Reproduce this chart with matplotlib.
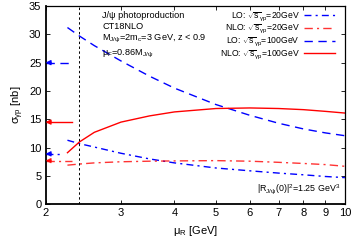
import matplotlib
matplotlib.use("Agg")
import matplotlib.pyplot as plt
from matplotlib.ticker import FixedLocator, FixedFormatter, NullLocator

plt.rcParams['font.family'] = ['Liberation Sans', 'DejaVu Sans']
plt.rcParams['mathtext.fontset'] = 'custom'
plt.rcParams['mathtext.rm'] = 'Liberation Sans'
plt.rcParams['mathtext.it'] = 'Liberation Sans'
plt.rcParams['mathtext.default'] = 'regular'

# renormalisation scale [GeV]
mu_r = [2.25, 2.4, 2.6, 3.0, 3.5, 4.0, 5.0, 6.0, 7.0, 8.0, 9.0, 10.0]
lo_20 = [11.3, 10.7, 10.1, 9.0, 8.0, 7.3, 6.4, 5.9, 5.5, 5.2, 4.9, 4.7]
nlo_20 = [6.9, 7.1, 7.3, 7.5, 7.6, 7.65, 7.7, 7.6, 7.4, 7.2, 7.0, 6.7]
lo_100 = [31.2, 29.7, 28.0, 25.3, 22.6, 20.5, 17.6, 15.7, 14.3, 13.3, 12.6, 12.1]
nlo_100 = [9.1, 11.0, 12.7, 14.5, 15.6, 16.3, 16.9, 17.0, 16.9, 16.7, 16.4, 16.1]

# arrows on left axis (value, start x)
arrow_vals = [8.9, 7.7, 25.0, 14.5]
arrow_x0 = [2.2, 2.3, 2.3, 2.3]

mu_line = 2.4
x_ticks = [2, 3, 4, 5, 6, 7, 8, 9, 10]
y_ticks = [0, 5, 10, 15, 20, 25, 30, 35]

blue = '#0000ff'
red = '#ff0000'
styles = [
    dict(color=blue, dashes=[5, 3, 1.5, 3], lw=1.0),
    dict(color=red, dashes=[6, 3, 1.5, 3], lw=1.0, alpha=0.8),
    dict(color=blue, dashes=[6, 4], lw=1.0),
    dict(color=red, lw=1.0),
]
labels = [r'LO: $\sqrt{s}_{\gamma p}$=20GeV', r'NLO: $\sqrt{s}_{\gamma p}$=20GeV',
          r'LO: $\sqrt{s}_{\gamma p}$=100GeV', r'NLO: $\sqrt{s}_{\gamma p}$=100GeV']
series = [lo_20, nlo_20, lo_100, nlo_100]

fig = plt.figure(figsize=(3.53, 2.40), dpi=100)
ax = fig.add_axes([0.129, 0.149, 0.848, 0.826])

for ys, st, lab in zip(series, styles, labels):
    ax.plot(mu_r, ys, label=lab, **st)

# arrows: shaft drawn in the curve style, filled head at the axis
for v, x0, st in zip(arrow_vals, arrow_x0, styles):
    ax.plot([2.0, x0], [v, v], clip_on=False, **st)
    ax.annotate('', xy=(2.0, v), xytext=(2.06, v),
                arrowprops=dict(arrowstyle='-|>', color=st['color'], lw=1.0,
                                mutation_scale=7, shrinkA=0, shrinkB=0,
                                alpha=st.get('alpha', 1)))

ax.axvline(mu_line, color='black', lw=0.7, dashes=[2.5, 2.5])

ax.set_xscale('log')
ax.set_xlim(2, 10)
ax.set_ylim(0, 35)
ax.xaxis.set_major_locator(FixedLocator(x_ticks))
ax.xaxis.set_major_formatter(FixedFormatter([str(t) for t in x_ticks]))
ax.xaxis.set_minor_locator(NullLocator())
ax.set_yticks(y_ticks)
ax.tick_params(direction='in', top=True, right=True, length=3, width=0.6,
               labelsize=8, pad=3)

for sp in ax.spines.values():
    sp.set_linewidth(0.9)
ax.spines['left'].set_linewidth(1.3)
ax.spines['bottom'].set_linewidth(1.3)

ax.set_xlabel(r'$\mu_R$ [GeV]', fontsize=8, labelpad=4)
ax.set_ylabel(r'$\sigma_{\gamma p}$ [nb]', fontsize=8, labelpad=2)

ax.text(0.19, 0.975, 'J/\u03c8 photoproduction\nCT18NLO\n'
        r'M$_{J/\psi}$=2m$_c$=3 GeV, z < 0.9' '\n' r'$\mu_F$=0.86M$_{J/\psi}$',
        transform=ax.transAxes, fontsize=6.6, va='top', ha='left', linespacing=1.3)
ax.text(0.985, 0.04, r'|R$_{J/\psi}$(0)|$^2$=1.25 GeV$^3$', transform=ax.transAxes,
        fontsize=6.4, ha='right', va='bottom')

ax.legend(loc='upper right', frameon=False, fontsize=6.2, markerfirst=False,
          handlelength=3.6, handletextpad=0.5, labelspacing=0.0,
          borderaxespad=0.2, bbox_to_anchor=(0.985, 1.005))

fig.savefig('out.png', dpi=100)
